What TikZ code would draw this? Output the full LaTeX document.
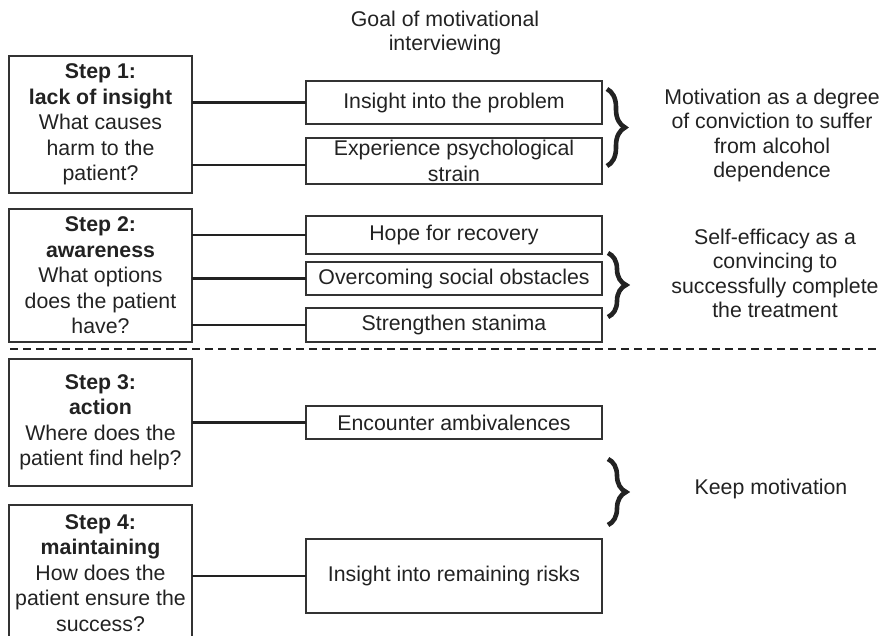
\documentclass[tikz,border=0pt]{standalone}
\usepackage{fontspec}
\setmainfont{Liberation Sans}
\usetikzlibrary{decorations.pathreplacing}
\definecolor{ink}{HTML}{222222}
\definecolor{rule}{HTML}{333333}
\begin{document}
\begin{tikzpicture}[x=1pt,y=-1pt,
  every node/.style={text=ink, font=\fontsize{21.3}{25.5}\selectfont},
  stepbox/.style={draw=rule, line width=1.4pt, inner sep=0pt, outer sep=0pt,
    minimum width=183pt, align=center},
  goalbox/.style={draw=rule, line width=1.4pt, inner sep=0pt, outer sep=0pt,
    minimum width=296pt, align=center},
  link/.style={draw=ink, line width=2.6pt},
  curly/.style={draw=ink, line width=4.6pt, decorate,
    decoration={brace, amplitude=18pt}},
  note/.style={align=center, font=\fontsize{21.3}{24.5}\selectfont}]

\useasboundingbox (0,0) rectangle (880,636);
\clip (0,0) rectangle (880,636);

% heading above the goal column
\node[note] (head) at (445,33) {Goal of motivational\\interviewing};

% steps of the treatment
\node[stepbox, minimum height=137pt] (s1) at (100.5,124.5)
  {\textbf{Step 1:}\\\textbf{lack of insight}\\What causes\\harm to the\\patient?};
\node[stepbox, minimum height=133pt] (s2) at (100.5,275.5)
  {\textbf{Step 2:}\\\textbf{awareness}\\What options\\does the patient\\have?};
\node[stepbox, minimum height=127pt] (s3) at (100.5,422.5)
  {\textbf{Step 3:}\\\textbf{action}\\Where does the\\patient find help?};
\node[stepbox, minimum height=136pt] (s4) at (100.5,573)
  {\textbf{Step 4:}\\\textbf{maintaining}\\How does the\\patient ensure the\\success?};

% goals
\node[goalbox, minimum height=43pt] (g1) at (454,102.5) {Insight into the problem};
\node[goalbox, minimum height=46pt] (g2) at (454,161) {Experience psychological\\strain};
\node[goalbox, minimum height=38pt] (g3) at (454,235) {Hope for recovery};
\node[goalbox, minimum height=33pt] (g4) at (454,278.5) {Overcoming social obstacles};
\node[goalbox, minimum height=34pt] (g5) at (454,325) {Strengthen stanima};
\node[goalbox, minimum height=33pt] (g6) at (454,422.5) {Encounter ambivalences};
\node[goalbox, minimum height=74pt] (g7) at (454,576) {Insight into remaining risks};

% step-to-goal links
\draw[link] (s1.east |- g1.west) -- (g1.west);
\draw[link] (s1.east |- 0,165) coordinate (l2) -- (g2.west |- l2);
\draw[link] (s2.east |- g3.west) -- (g3.west);
\draw[link] (s2.east |- g4.west) -- (g4.west);
\draw[link] (s2.east |- g5.west) -- (g5.west);
\draw[link] (s3.east |- g6.west) -- (g6.west);
\draw[link] (s4.east |- g7.west) -- (g7.west);

% separator between the two phases
\draw[draw=ink, line width=2pt, dash pattern=on 8pt off 5pt] (10,349) -- (880,349);

% braces grouping the goals
\coordinate (b1t) at (607,89);  \coordinate (b1b) at (607,166);
\coordinate (b2t) at (608,253); \coordinate (b2b) at (608,317);
\coordinate (b3t) at (608,459); \coordinate (b3b) at (608,525);
\draw[curly] (b1t) -- (b1b);
\draw[curly] (b2t) -- (b2b);
\draw[curly] (b3t) -- (b3b);

% what each group of goals builds
\node[note] (m1) at (772,135.5)
  {Motivation as a degree\\of conviction to suffer\\from alcohol\\dependence};
\node[note] (m2) at (775,273.5)
  {Self-efficacy as a\\convincing to\\successfully complete\\the treatment};
\node[note] (m3) at (771,489) {Keep motivation};
\end{tikzpicture}
\end{document}
